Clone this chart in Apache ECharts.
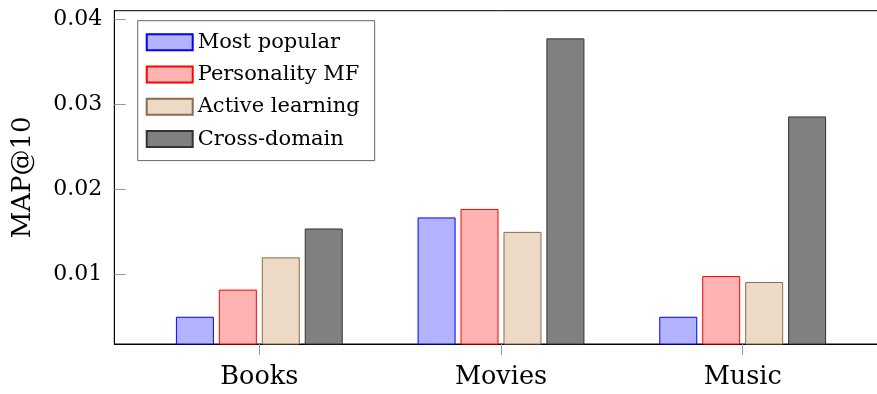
<!DOCTYPE html>
<html>
<head>
<meta charset="utf-8">
<script src="https://cdn.jsdelivr.net/npm/echarts@6/dist/echarts.min.js"></script>
<style>
  html, body { margin: 0; padding: 0; background: #fff; }
  #chart { width: 877px; height: 394px; }
</style>
</head>
<body>
<div id="chart"></div>
<script>
// Domains on the x axis
const categories = ['Books', 'Movies', 'Music'];

// MAP@10 for each method, per domain
const mostPopular    = [0.0050, 0.0167, 0.0050];
const personalityMF  = [0.0082, 0.0177, 0.0098];
const activeLearning = [0.0120, 0.0150, 0.0091];
const crossDomain    = [0.0154, 0.0378, 0.0286];

// Y tick labels
const yTicks = [0.01, 0.02, 0.03, 0.04];

const FONT = '"DejaVu Serif", "Liberation Serif", serif';

const methods = [
  { name: 'Most popular',    values: mostPopular,    fill: '#b3b3ff', stroke: '#0000ff' },
  { name: 'Personality MF',  values: personalityMF,  fill: '#ffb3b3', stroke: '#ff0000' },
  { name: 'Active learning', values: activeLearning, fill: '#ecd9c6', stroke: '#8c6a4a' },
  { name: 'Cross-domain',    values: crossDomain,    fill: '#808080', stroke: '#333333' }
];

const chart = echarts.init(document.getElementById('chart'), null, { renderer: 'canvas' });

chart.setOption({
  animation: false,
  backgroundColor: '#ffffff',
  grid: {
    left: 114.3,
    top: 10.7,
    width: 773.4,
    height: 333.3,
    outerBoundsMode: 'none',
    containLabel: false,
    show: true,
    borderColor: '#000000',
    borderWidth: 1,
    backgroundColor: 'transparent'
  },
  legend: {
    orient: 'vertical',
    left: 137.7,
    top: 20.7,
    padding: [11, 15, 11, 8],
    itemWidth: 46,
    itemHeight: 16,
    itemGap: 11.3,
    borderColor: '#666666',
    borderWidth: 1,
    textStyle: { fontFamily: FONT, fontSize: 21, color: '#000', padding: [0, 0, 0, 0] },
    data: methods.map(m => ({ name: m.name, icon: 'rect' }))
  },
  xAxis: {
    type: 'value',
    min: -0.6,
    max: 2.6,
    splitLine: { show: false },
    axisLine: { show: true, onZero: false, lineStyle: { color: '#000', width: 1 } },
    axisTick: {
      show: true,
      customValues: categories.map((c, i) => i),
      inside: false,
      length: 11,
      lineStyle: { color: '#999999', width: 1 }
    },
    axisLabel: {
      customValues: categories.map((c, i) => i),
      formatter: v => categories[Math.round(v)] || '',
      fontFamily: FONT,
      fontSize: 25.5,
      color: '#000',
      margin: 20
    }
  },
  yAxis: {
    type: 'value',
    min: 0.00179,
    max: 0.04106,
    name: 'MAP@10',
    nameLocation: 'middle',
    nameGap: 78,
    nameTextStyle: { fontFamily: FONT, fontSize: 26, color: '#000' },
    splitLine: { show: false },
    axisLine: { show: true, onZero: false, lineStyle: { color: '#000', width: 1 } },
    axisTick: {
      show: true,
      inside: true,
      length: 11.5,
      customValues: yTicks,
      lineStyle: { color: '#999999', width: 1 }
    },
    axisLabel: {
      customValues: yTicks,
      formatter: v => v.toFixed(2),
      fontFamily: FONT,
      fontSize: 22,
      color: '#000',
      margin: 12
    }
  },
  series: methods.map(m => ({
    name: m.name,
    type: 'bar',
    barWidth: 38,
    barGap: '13%',
    data: m.values.map((v, i) => [i, v]),
    itemStyle: { color: m.fill, borderColor: m.stroke, borderWidth: 1 }
  }))
});
</script>
</body>
</html>
